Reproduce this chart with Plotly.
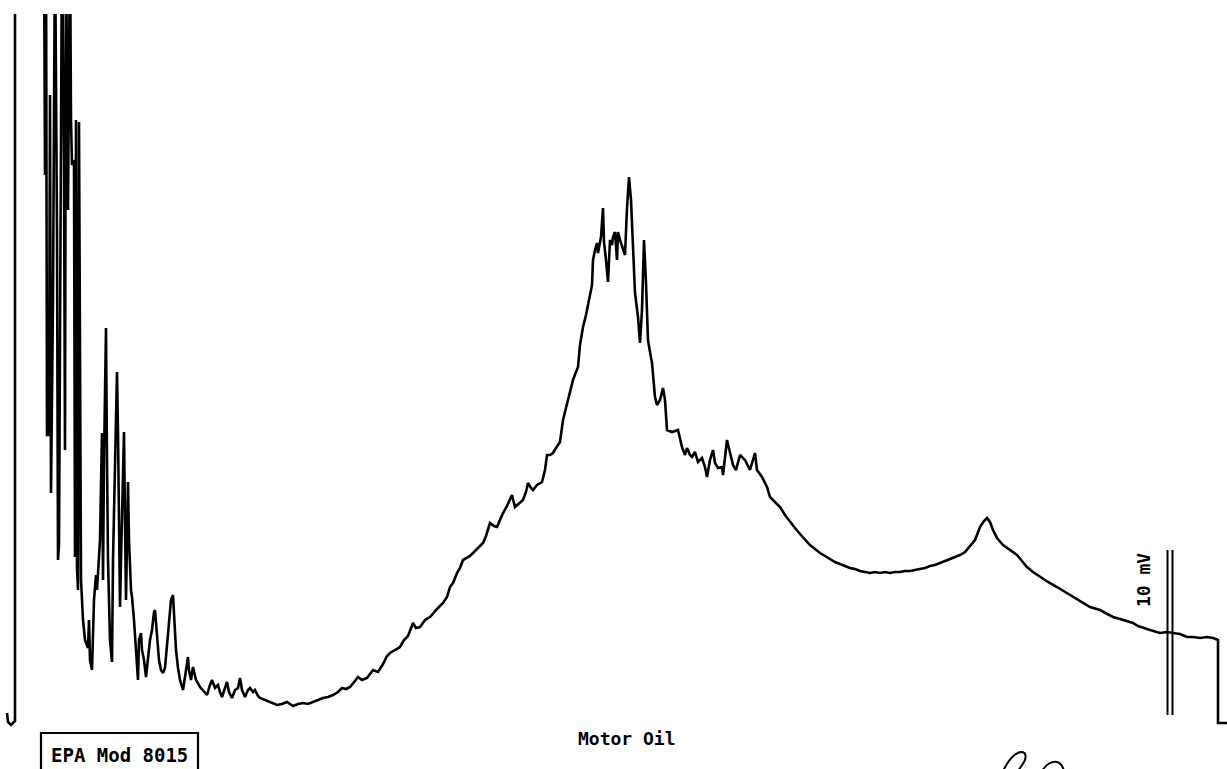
import plotly.graph_objects as go

# Detector trace, GC-FID run of a motor oil sample.
# Scan position along the run, and detector signal in counts (165 counts = 10 mV).
# Values above the pen limit (780) are off scale and get clipped by the frame.

scan_light = [7, 8, 11, 15, 15, 44, 45, 46, 47, 49, 50, 51, 53, 55, 57, 58, 59, 61, 62, 64,
              65, 66, 68, 70, 71, 72, 74, 75, 76, 77, 78, 79, 80, 81, 83, 85, 88, 89, 90, 92,
              94, 96, 97, 99, 100, 102, 103, 104, 106, 107, 108, 110, 112, 113, 115, 117, 118,
              119, 120, 121, 123, 124, 125, 126, 128, 129, 131, 132, 134, 136, 138, 139, 141,
              142, 144, 146, 148, 150, 152, 154, 155, 157, 159, 161, 163, 165, 167, 169, 171,
              173, 174, 176, 178, 180, 183, 186, 188, 189, 191, 193, 196, 200, 203, 207, 210,
              212, 215, 218, 220, 222, 225, 227, 229, 232, 235, 238, 240, 242, 245, 248, 250,
              253, 255, 258, 260, 265, 270, 274, 277, 282, 287, 290, 293, 298]
signal_light = [2, -7, -10, -6, 780, 780, 540, 780, 280, 280, 620, 222, 415, 780, 485, 155, 170,
                505, 780, 550, 265, 780, 505, 780, 595, 550, 555, 158, 595, 147, 125, 593, 380,
                135, 95, 75, 67, 95, 55, 45, 115, 140, 125, 165, 175, 282, 135, 255, 387, 255,
                155, 75, 53, 155, 235, 343, 283, 195, 108, 155, 265, 283, 195, 115, 233, 175,
                125, 118, 95, 65, 35, 75, 82, 65, 55, 38, 55, 75, 85, 103, 105, 75, 55, 45, 42,
                47, 70, 95, 115, 120, 105, 65, 47, 35, 25, 47, 58, 45, 35, 48, 35, 28, 25, 20,
                30, 35, 27, 30, 23, 18, 27, 33, 23, 17, 25, 27, 37, 25, 18, 25, 27, 23, 25, 19,
                17, 15, 13, 12, 10, 11, 13, 11, 9, 11]

scan_hump = [303, 308, 313, 318, 323, 328, 333, 338, 342, 346, 350, 355, 358, 362, 367, 373, 378,
             383, 387, 390, 395, 400, 404, 408, 413, 416, 420, 425, 430, 434, 438, 443, 447, 450,
             453, 457, 460, 463, 467, 470, 473, 478, 483, 486, 490, 494, 497, 500, 503, 507, 510,
             512, 515, 519, 523, 526, 528, 531, 533, 537, 542, 545, 547, 550, 553, 556, 560, 563,
             566, 570, 573, 576, 578, 580, 583, 586, 588, 590, 592, 593, 595, 597, 598, 600, 601,
             603, 604, 606, 608, 610, 612, 613, 615, 617, 618, 620, 622, 625, 627, 629, 631, 633,
             635, 638, 640, 642, 644, 646, 648, 650, 652, 655, 657, 660, 663, 665, 667, 672, 678,
             682, 685, 687, 690, 692, 695, 698, 702, 705, 707, 710, 713, 715, 718, 722, 723, 727,
             730, 733, 736, 740, 745, 750, 755, 757, 762, 767, 770]
signal_hump = [12, 11, 13, 15, 17, 18, 20, 23, 27, 26, 28, 34, 38, 35, 37, 45, 43, 51, 59, 62, 65,
               68, 75, 79, 92, 87, 88, 95, 98, 103, 107, 112, 118, 128, 132, 142, 147, 155, 157,
               159, 162, 167, 172, 179, 192, 189, 188, 195, 202, 209, 215, 220, 208, 212, 215,
               223, 232, 227, 225, 230, 233, 245, 260, 260, 262, 267, 273, 295, 307, 322, 335,
               343, 348, 370, 388, 400, 412, 420, 430, 455, 465, 472, 462, 475, 478, 507, 473,
               455, 433, 475, 470, 478, 483, 455, 483, 475, 468, 460, 507, 538, 515, 458, 422,
               398, 372, 405, 475, 432, 375, 363, 352, 318, 310, 315, 327, 315, 285, 283, 285,
               268, 260, 267, 260, 258, 263, 253, 257, 248, 238, 255, 265, 252, 247, 248, 240,
               275, 263, 250, 245, 260, 255, 245, 262, 245, 238, 228, 218]

scan_tail = [775, 780, 785, 790, 795, 800, 805, 810, 815, 820, 825, 830, 835, 840, 845, 850, 855,
             860, 865, 870, 875, 880, 885, 890, 895, 900, 905, 910, 915, 920, 925, 930, 935, 940,
             945, 950, 955, 960, 965, 970, 975, 980, 984, 987, 990, 993, 997, 1003, 1010, 1017,
             1022, 1027, 1033, 1040, 1048, 1057, 1065, 1073, 1082, 1090, 1100, 1107, 1113, 1120,
             1127, 1133, 1138, 1143, 1150, 1160, 1167, 1173, 1180, 1187, 1193, 1200, 1207, 1213,
             1218, 1218, 1227]
signal_tail = [213, 208, 200, 193, 187, 181, 175, 170, 166, 162, 159, 156, 153, 151, 149, 147, 146,
               144, 143, 142, 143, 142, 143, 142, 143, 143, 144, 144, 145, 146, 147, 149, 150, 152,
               154, 156, 158, 160, 163, 169, 175, 188, 194, 197, 193, 185, 177, 170, 165, 160,
               154, 148, 143, 138, 133, 128, 123, 118, 113, 108, 105, 101, 98, 96, 94, 92, 89, 87,
               85, 82, 83, 82, 81, 78, 78, 77, 78, 77, 75, -8, -8]

# 10 mV calibration bar
bar_scan = 1170
bar_counts = [0, 165]

scan = scan_light + scan_hump + scan_tail
signal = signal_light + signal_hump + signal_tail

fig = go.Figure()
fig.add_trace(go.Scatter(
    x=scan, y=signal, mode="lines",
    line=dict(color="black", width=2.6, shape="linear"),
    hoverinfo="skip", showlegend=False,
))

# double-stroked calibration bar
for dx in (-2.5, 2.5):
    fig.add_shape(type="line", xref="x", yref="y",
                  x0=bar_scan + dx, x1=bar_scan + dx, y0=bar_counts[0], y1=bar_counts[1],
                  line=dict(color="black", width=2))

mono = "DejaVu Sans Mono"
fig.add_annotation(x=1143, y=135, xref="x", yref="y", text="<b>10 mV</b>", textangle=-90,
                   showarrow=False, font=dict(family=mono, size=18, color="black"))
fig.add_annotation(x=627, y=-23, xref="x", yref="y", text="<b>Motor Oil</b>",
                   showarrow=False, font=dict(family=mono, size=18, color="black"))

# method label box (runs off the bottom edge)
fig.add_shape(type="path", xref="x", yref="y",
              path="M 41,-62 L 41,-18 L 198,-18 L 198,-62",
              line=dict(color="black", width=2.2))
fig.add_annotation(x=119, y=-40, xref="x", yref="y", text="<b>EPA Mod 8015</b>",
                   showarrow=False, font=dict(family=mono, size=19, color="black"))

# analyst initials
fig.add_shape(type="path", xref="x", yref="y",
              path="M 1003,-56 C 1008,-46 1014,-38 1021,-37 C 1027,-37 1027,-44 1022,-50 L 1018,-56",
              line=dict(color="black", width=2))
fig.add_shape(type="path", xref="x", yref="y",
              path="M 1042,-56 C 1046,-49 1052,-46 1057,-47 C 1061,-48 1063,-52 1064,-56",
              line=dict(color="black", width=2))

fig.update_layout(
    width=1227, height=769, autosize=False,
    margin=dict(l=0, r=0, t=14, b=0),
    paper_bgcolor="white", plot_bgcolor="white",
    xaxis=dict(range=[0, 1227], visible=False, fixedrange=True),
    yaxis=dict(range=[-54, 701], visible=False, fixedrange=True),
    showlegend=False,
)

fig.write_html("out.html")
